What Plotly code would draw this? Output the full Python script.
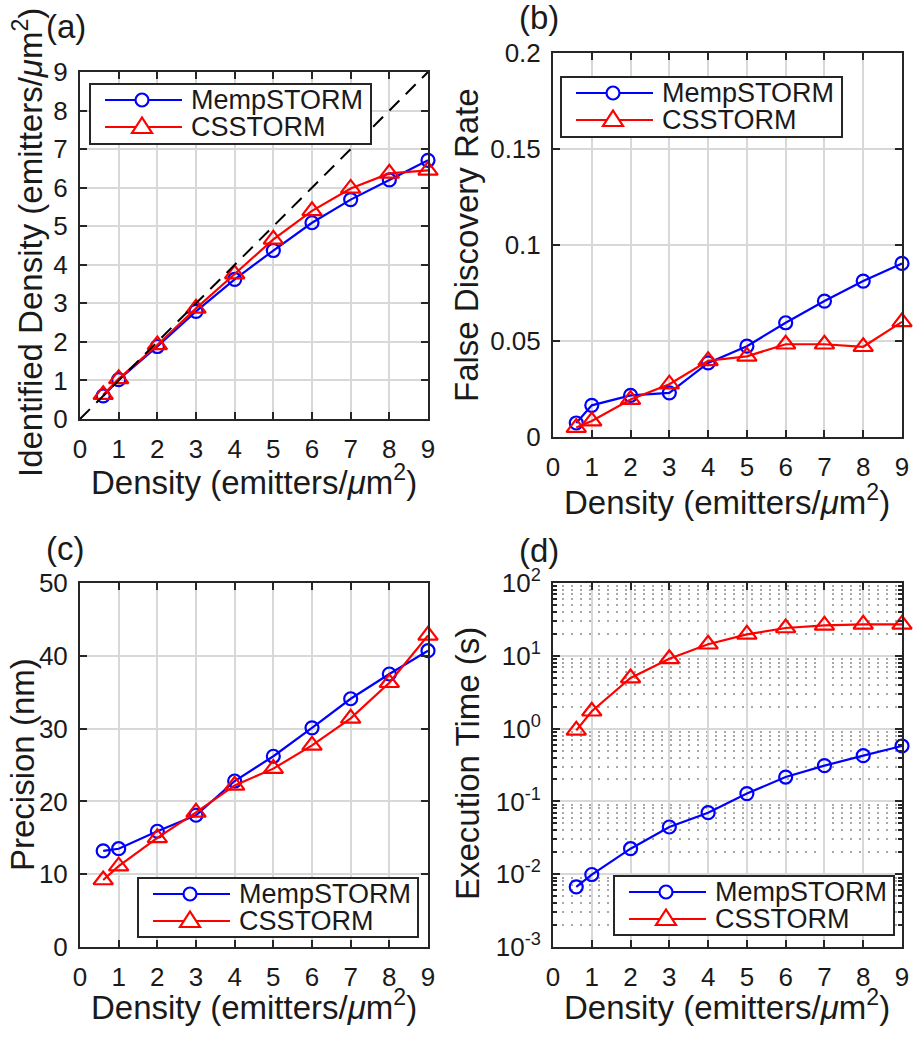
import plotly.graph_objects as go

density = [0.6, 1, 2, 3, 4, 5, 6, 7, 8, 9]

ident_memp = [0.60, 1.02, 1.88, 2.79, 3.62, 4.37, 5.09, 5.69, 6.20, 6.71]
ident_cs = [0.63, 1.04, 1.92, 2.87, 3.76, 4.66, 5.40, 5.98, 6.37, 6.45]

fdr_memp = [0.0073, 0.0165, 0.0217, 0.0230, 0.0386, 0.0473, 0.0595, 0.0708, 0.0812, 0.0904]
fdr_cs = [0.0049, 0.0083, 0.0195, 0.0275, 0.0397, 0.0420, 0.0483, 0.0483, 0.0470, 0.0600]

prec_memp = [13.2, 13.5, 15.9, 18.1, 22.8, 26.2, 30.1, 34.1, 37.5, 40.7]
prec_cs = [9.2, 11.1, 15.0, 18.5, 22.2, 24.5, 27.7, 31.4, 36.3, 42.8]

time_memp = [0.0067, 0.0099, 0.0224, 0.0445, 0.070, 0.128, 0.216, 0.31, 0.425, 0.577]
time_cs = [0.946, 1.73, 4.95, 9.1, 14.4, 19.7, 24.1, 26.2, 27.0, 27.0]

ident_line = [0, 9]

log_ticks = [1e-3, 1e-2, 1e-1, 1e0, 1e1, 1e2]
log_text = ["10<sup>-3</sup>", "10<sup>-2</sup>", "10<sup>-1</sup>",
            "10<sup>0</sup>", "10<sup>1</sup>", "10<sup>2</sup>"]

series_names = ["MempSTORM", "CSSTORM"]

FONT = "Liberation Sans, Arial, sans-serif"
AX = "#262626"
TXT = "#1a1a1a"
BLUE = "#0000ff"
RED = "#ff0000"
W, H = 915, 1050


def px_x(p):
    return p / W


def px_y(p):
    return 1 - p / H


fig = go.Figure()

panels = [
    ("", ident_memp, ident_cs),
    ("2", fdr_memp, fdr_cs),
    ("3", prec_memp, prec_cs),
    ("4", time_memp, time_cs),
]

for sfx, ym, yc in panels:
    fig.add_trace(go.Scatter(
        x=density, y=ym, name=series_names[0], mode="lines+markers",
        xaxis="x" + sfx, yaxis="y" + sfx, cliponaxis=False, showlegend=False,
        line=dict(color=BLUE, width=2.2),
        marker=dict(symbol="circle-open", size=13, color=BLUE, line=dict(width=2.2, color=BLUE))))
    fig.add_trace(go.Scatter(
        x=density, y=yc, name=series_names[1], mode="lines+markers",
        xaxis="x" + sfx, yaxis="y" + sfx, cliponaxis=False, showlegend=False,
        line=dict(color=RED, width=2.2),
        marker=dict(symbol="triangle-up-open", size=17, color=RED, line=dict(width=2.2, color=RED))))

# identity line in (a)
fig.add_trace(go.Scatter(x=ident_line, y=ident_line, mode="lines", showlegend=False,
                         xaxis="x", yaxis="y",
                         line=dict(color="black", width=2, dash="14px,9px")))

common = dict(showline=True, linecolor=AX, linewidth=2, mirror="ticks",
              ticks="inside", ticklen=7, tickwidth=1.5, tickcolor=AX, automargin=False,
              showgrid=True, gridcolor="#d8d8d8", gridwidth=2, zeroline=False,
              tickfont=dict(family=FONT, size=26, color=TXT))

xd_left = [px_x(80), px_x(428)]
xd_right = [px_x(553), px_x(902)]
yd_a = [px_y(419), px_y(72)]
yd_b = [px_y(437), px_y(53)]
yd_bot = [px_y(947), px_y(583)]

xt = dict(range=[0, 9], tickvals=list(range(10)), ticklabelstandoff=6)
yt = dict(ticklabelstandoff=5)

fig.update_layout(
    xaxis=dict(domain=xd_left, anchor="y", **xt, **common),
    yaxis=dict(domain=yd_a, anchor="x", range=[0, 9], dtick=1, **yt, **common),
    xaxis2=dict(domain=xd_right, anchor="y2", **xt, **common),
    yaxis2=dict(domain=yd_b, anchor="x2", range=[0, 0.2], tickvals=[0, 0.05, 0.1, 0.15, 0.2],
                ticktext=["0", "0.05", "0.1", "0.15", "0.2"], **yt, **common),
    xaxis3=dict(domain=xd_left, anchor="y3", **xt, **common),
    yaxis3=dict(domain=yd_bot, anchor="x3", range=[0, 50], dtick=10, **yt, **common),
    xaxis4=dict(domain=xd_right, anchor="y4", **xt, **common),
    yaxis4=dict(domain=yd_bot, anchor="x4", type="log", range=[-3, 2],
                tickvals=log_ticks, ticktext=log_text,
                minor=dict(dtick="D1", ticks="inside", ticklen=4, tickcolor=AX,
                           showgrid=True, gridcolor="#a8a8a8", griddash="2px,7px", gridwidth=2),
                **yt, **common),
)


# legends drawn as boxes (MATLAB style: tight rows)
def add_legend(x0, y0, x1, y1):
    fig.add_shape(type="rect", xref="paper", yref="paper", layer="above",
                  x0=px_x(x0), x1=px_x(x1), y0=px_y(y0), y1=px_y(y1),
                  fillcolor="white", line=dict(color=AX, width=2))
    rows = [(y0 + 16, BLUE, "circle"), (y0 + 43, RED, "triangle")]
    for (yy, col, sym), name in zip(rows, series_names):
        fig.add_shape(type="line", xref="paper", yref="paper", layer="above",
                      x0=px_x(x0 + 15), x1=px_x(x0 + 92), y0=px_y(yy), y1=px_y(yy),
                      line=dict(color=col, width=2.2))
        cx = x0 + 52
        if sym == "circle":
            fig.add_shape(type="circle", xref="paper", yref="paper", layer="above",
                          x0=px_x(cx - 6.5), x1=px_x(cx + 6.5), y0=px_y(yy + 6.5), y1=px_y(yy - 6.5),
                          fillcolor="white", line=dict(color=col, width=2.2))
        else:
            path = "M {} {} L {} {} L {} {} Z".format(
                px_x(cx - 10), px_y(yy + 6), px_x(cx + 10), px_y(yy + 6), px_x(cx), px_y(yy - 9.5))
            fig.add_shape(type="path", xref="paper", yref="paper", layer="above", path=path,
                          fillcolor="white", line=dict(color=col, width=2.2))
        fig.add_annotation(text=name, x=px_x(x0 + 99), y=px_y(yy), xref="paper", yref="paper",
                           showarrow=False, xanchor="left", yanchor="middle",
                           font=dict(family=FONT, size=27, color=TXT))


add_legend(90, 84, 371, 144)
add_legend(561, 77, 842, 137)
add_legend(138, 878, 418, 937)
add_legend(614, 876, 894, 935)

mu = "<i>μ</i>m<sup>2</sup>"
xlabel = "Density (emitters/" + mu + ")"

annots = [
    # panel letters
    ("(a)", 66, 27, 0), ("(b)", 539, 18, 0), ("(c)", 65, 548, 0), ("(d)", 539, 550, 0),
    # x titles
    (xlabel, 254, 480, 0), (xlabel, 727, 500, 0), (xlabel, 254, 1005, 0), (xlabel, 727, 1005, 0),
    # y titles
    ("Identified Density (emitters/" + mu + ")", 28, 243, -90),
    ("False Discovery Rate", 466, 245, -90),
    ("Precision (nm)", 22, 765, -90),
    ("Execution Time (s)", 467, 763, -90),
]
for txt, ax_, ay_, ang in annots:
    fig.add_annotation(text=txt, x=px_x(ax_), y=px_y(ay_), xref="paper", yref="paper",
                       showarrow=False, textangle=ang, xanchor="center", yanchor="middle",
                       font=dict(family=FONT, size=33, color=TXT))

fig.update_layout(width=W, height=H, margin=dict(l=0, r=0, t=0, b=0),
                  paper_bgcolor="white", plot_bgcolor="white", showlegend=False)

# drop the default page margin so the figure sits at the window's corner
fig.write_html("out.html", config={"displayModeBar": False},
               post_script="document.body.style.margin='0';")
